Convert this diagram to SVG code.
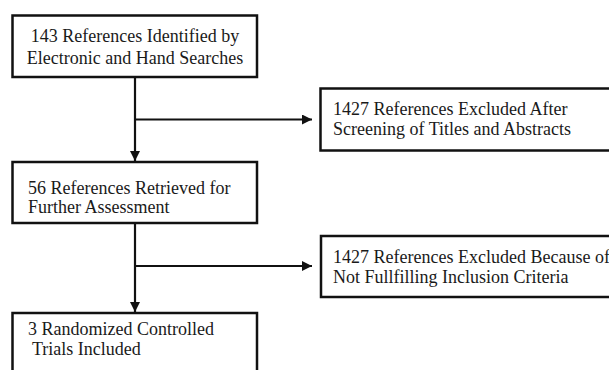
<svg xmlns="http://www.w3.org/2000/svg" width="609" height="370" viewBox="0 0 609 370">
  <defs>
    <style>
      .box { fill: #ffffff; stroke: #111111; stroke-width: 2.5; }
      .t { font-family: "Liberation Serif", "Times New Roman", serif; font-size: 18px; fill: #1a1a1a; }
      .c { text-anchor: middle; }
      .ln { stroke: #111111; stroke-width: 2.2; fill: none; }
    </style>
    <marker id="ah" markerWidth="10" markerHeight="10" viewBox="0 0 10 10" refX="10" refY="5" orient="auto" markerUnits="userSpaceOnUse">
      <path d="M0,0 L10,5 L0,10 Z" fill="#111111"/>
    </marker>
  </defs>
  <rect width="609" height="370" fill="#ffffff"/>

  <g id="connectors">
    <line class="ln" x1="135" y1="77" x2="135" y2="161" marker-end="url(#ah)"/>
    <line class="ln" x1="135" y1="119.5" x2="312" y2="119.5" marker-end="url(#ah)"/>
    <line class="ln" x1="135" y1="223" x2="135" y2="312" marker-end="url(#ah)"/>
    <line class="ln" x1="135" y1="266" x2="312" y2="266" marker-end="url(#ah)"/>
  </g>

  <g id="node-identified">
    <rect class="box" x="12.5" y="15.5" width="244.5" height="61.5"/>
    <text class="t c" x="135" y="41.5">143 References Identified by</text>
    <text class="t c" x="135" y="63.5">Electronic and Hand Searches</text>
  </g>

  <g id="node-excluded-screening">
    <rect class="box" x="320.5" y="88.5" width="300" height="62"/>
    <text class="t" x="333" y="115">1427 References Excluded After</text>
    <text class="t" x="333" y="135">Screening of Titles and Abstracts</text>
  </g>

  <g id="node-retrieved">
    <rect class="box" x="12.5" y="162" width="244.5" height="61"/>
    <text class="t" x="28" y="193.5">56 References Retrieved for</text>
    <text class="t" x="28" y="213">Further Assessment</text>
  </g>

  <g id="node-excluded-criteria">
    <rect class="box" x="321" y="236" width="300" height="61"/>
    <text class="t" x="333" y="263">1427 References Excluded Because of</text>
    <text class="t" x="333" y="283">Not Fullfilling Inclusion Criteria</text>
  </g>

  <g id="node-included">
    <rect class="box" x="12.5" y="313" width="244.5" height="70"/>
    <text class="t" x="28" y="335">3 Randomized Controlled</text>
    <text class="t" x="32" y="355">Trials Included</text>
  </g>
</svg>
